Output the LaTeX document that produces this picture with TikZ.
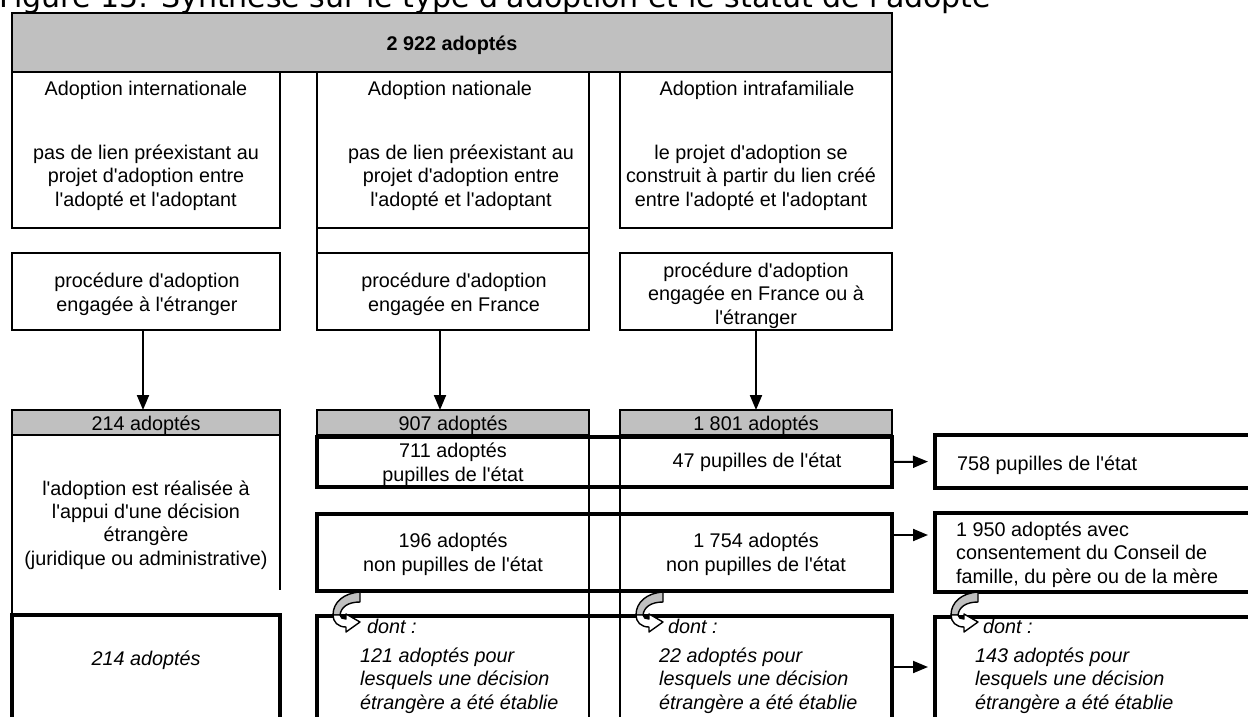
\documentclass[tikz,border=0pt]{standalone}
\usepackage{fontspec}
\setmainfont{Liberation Sans}[Ligatures=TeXOff]
\newfontfamily\titlefont{DejaVu Sans}[Ligatures=TeXOff]
\usepackage{xcolor}
\usepackage{tikz}
\usetikzlibrary{arrows.meta,fit}
\definecolor{boxgrey}{RGB}{192,192,192}
\newcommand{\bodyfont}{\fontsize{19.8}{23.3}\selectfont}

\begin{document}
\begin{tikzpicture}[x=1pt,y=-1pt,
    cell/.style={draw,line width=2pt,inner sep=0pt,outer sep=0pt},
    band/.style={cell,line width=4.2pt},
    head/.style={cell,fill=boxgrey},
    rule/.style={line width=2pt},
    txt/.style={font=\bodyfont,inner sep=0pt,anchor=base,align=center},
    ltxt/.style={txt,anchor=base west,align=left},
    arr/.style={line width=2pt,-{Triangle[length=15pt,width=12pt]}},
    curl/.style={line width=1.4pt,line join=round}]
  \useasboundingbox (0,0) rectangle (1248,716);
  \clip (0,0) rectangle (1248,716);
  % title, cut by the top edge
  \node[font=\titlefont\fontsize{30}{36}\selectfont,inner sep=0pt,anchor=base west] (title) at (-1,7)
    {Figure 15: Synthèse sur le type d'adoption et le statut de l'adopté};
  % all adoptees
  \node[head,fit={(12,13)(892,72)}] (total) {};
  \node[txt,font=\bodyfont\bfseries] (total-t) at (452,50) {2 922 adoptés};
  % kinds of adoption (multi-line texts sit on their last baseline)
  \node[cell,fit={(12,72)(280,228)}] (intl) {};
  \node[cell,fit={(317,72)(589,228)}] (natl) {};
  \node[cell,fit={(620,72)(892,228)}] (intra) {};
  \node[cell,fit={(317,228)(589,253)}] (natl-gap) {};
  \node[txt] (intl-t) at (146,95) {Adoption internationale};
  \node[txt] (natl-t) at (450,95) {Adoption nationale};
  \node[txt] (intra-t) at (757,95) {Adoption intrafamiliale};
  \node[txt] (intl-d) at (146,206) {pas de lien préexistant au\\projet d'adoption entre\\l'adopté et l'adoptant};
  \node[txt] (natl-d) at (461,206) {pas de lien préexistant au\\projet d'adoption entre\\l'adopté et l'adoptant};
  \node[txt] (intra-d) at (751,206) {le projet d'adoption se\\construit à partir du lien créé\\entre l'adopté et l'adoptant};
  % procedures
  \node[cell,fit={(12,253)(280,330)}] (proc-intl) {};
  \node[cell,fit={(317,253)(589,330)}] (proc-natl) {};
  \node[cell,fit={(620,253)(892,330)}] (proc-intra) {};
  \node[txt] (proc-intl-t) at (147,311) {procédure d'adoption\\engagée à l'étranger};
  \node[txt] (proc-natl-t) at (454,311) {procédure d'adoption\\engagée en France};
  \node[txt] (proc-intra-t) at (756,324) {procédure d'adoption\\engagée en France ou à\\l'étranger};
  % counts
  \node[head,fit={(12,410)(280,435)}] (hdr-intl) {};
  \node[head,fit={(317,410)(589,435)}] (hdr-natl) {};
  \node[head,fit={(620,410)(892,435)}] (hdr-intra) {};
  \node[txt] (hdr-intl-t) at (146,430) {214 adoptés};
  \node[txt] (hdr-natl-t) at (453,430) {907 adoptés};
  \node[txt] (hdr-intra-t) at (756,430) {1 801 adoptés};
  \draw[arr] ([xshift=-3pt]proc-intl.south) -- ([xshift=-3pt]hdr-intl.north);
  \draw[arr] ([xshift=-13pt]proc-natl.south) -- ([xshift=-13pt]hdr-natl.north);
  \draw[arr] (proc-intra.south) -- (hdr-intra.north);
  % international column
  \draw[rule] (hdr-intl.south west) -- ++(0,180);
  \draw[rule] (hdr-intl.south east) -- ++(0,155);
  \node[txt] (decision) at (146,565) {l'adoption est réalisée à\\l'appui d'une décision\\étrangère\\(juridique ou administrative)};
  \node[band,fit={(12,615)(280,760)}] (foreign-intl) {};
  \node[txt,font=\bodyfont\itshape] (foreign-intl-t) at (146,665) {214 adoptés};
  % national and intrafamily columns
  \node[band,fit={(317,437)(892,487)}] (pupils) {};
  \node[band,fit={(317,514)(892,591)}] (nonpupils) {};
  \node[band,fit={(317,616)(892,760)}] (foreignrow) {};
  \draw[rule] (hdr-natl.north east) -- (hdr-natl.east |- foreignrow.south);
  \draw[rule] (hdr-intra.north west) -- (hdr-intra.west |- foreignrow.south);
  \node[txt] (pup-natl) at (453,481) {711 adoptés\\pupilles de l'état};
  \node[txt] (pup-intra) at (757,467) {47 pupilles de l'état};
  \node[txt] (nonpup-natl) at (453,571) {196 adoptés\\non pupilles de l'état};
  \node[txt] (nonpup-intra) at (756,571) {1 754 adoptés\\non pupilles de l'état};
  \node[ltxt,font=\bodyfont\itshape] (foreign-natl) at (360,709) {\hspace*{7pt}dont :\\[6pt]121 adoptés pour\\lesquels une décision\\étrangère a été établie};
  \node[ltxt,font=\bodyfont\itshape] (foreign-intra) at (659,709) {\hspace*{9pt}dont :\\[6pt]22 adoptés pour\\lesquels une décision\\étrangère a été établie};
  % totals
  \node[band,fit={(935,435)(1262,488)}] (pupils-all) {};
  \node[band,fit={(935,513)(1262,592)}] (consent) {};
  \node[band,fit={(935,617)(1262,760)}] (foreign-all) {};
  \node[ltxt] (pupils-all-t) at (957,470) {758 pupilles de l'état};
  \node[ltxt] (consent-t) at (956,583) {1 950 adoptés avec\\consentement du Conseil de\\famille, du père ou de la mère};
  \node[ltxt,font=\bodyfont\itshape] (foreign-all-t) at (975,709) {\hspace*{8pt}dont :\\[6pt]143 adoptés pour\\lesquels une décision\\étrangère a été établie};
  \draw[arr,shorten >=7pt] (pupils.east) -- (pupils-all.west);
  \draw[arr,shorten >=7pt] (nonpupils.east |- 0,535) -- (consent.west |- 0,535);
  \draw[arr,shorten >=7pt] (foreignrow.east |- 0,667) -- (foreign-all.west |- 0,667);
  % curved arrows into the "dont" rows
  \foreach \bx in {317,620,935}{
    \begin{scope}[shift={(\bx,616)}]
      \filldraw[curl,fill=boxgrey] (43,-24) .. controls (27,-23) and (16,-14) .. (16,-1) -- (23,-1) .. controls (24,-9) and (31,-14) .. (43,-14) -- cycle;
      \filldraw[curl,fill=white] (16,-1) .. controls (16,6) and (21,11) .. (29,11) -- (29,16) -- (43,6) -- (29,-2) -- (29,3) .. controls (26,3) and (23,2) .. (23,-1) -- cycle;
    \end{scope}
  }
\end{tikzpicture}
\end{document}
